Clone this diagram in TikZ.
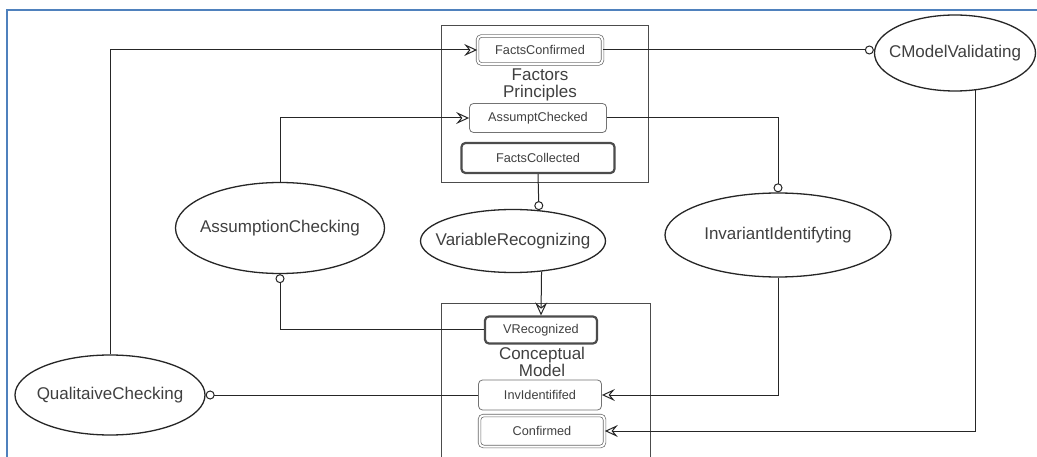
\documentclass[tikz,border=0pt]{standalone}
\usepackage{fontspec}
\setmainfont{Liberation Sans}
\usetikzlibrary{arrows.meta,shapes.geometric,positioning}
\definecolor{framebl}{RGB}{79,129,189}

\begin{document}
\begin{tikzpicture}[x=1pt, y=-1pt,
    proc/.style={draw=black!85, line width=1.3pt, ellipse, inner sep=0pt},
    proctxt/.style={text=black!75, font=\fontsize{17}{19}\selectfont},
    state/.style={draw=black!55, line width=0.8pt, rounded corners=4pt, inner sep=0pt, text=black!75, font=\fontsize{12.7}{14}\selectfont},
    thickstate/.style={state, draw=black!70, line width=2.2pt},
    dblstate/.style={state, draw=black!60, line width=0.7pt, double, double distance=2pt},
    group/.style={draw=black!70, line width=0.8pt, inner sep=0pt},
    grouplbl/.style={align=center, text=black!75, font=\fontsize{17}{17}\selectfont},
    arr/.style={-{Stealth[open, length=13pt, width=12pt, inset=5pt]}, line width=1pt, draw=black!85},
    circ/.style={-{Circle[open, length=9pt]}, line width=1pt, draw=black!85}
]
\clip (0,0) rectangle (1037,457);
\fill[white] (0,0) rectangle (1037,457);
\draw[framebl, line width=2pt] (1037,10) -- (7,10) -- (7,457);

% containers
\node[group, minimum width=207pt, minimum height=157pt] (fp) at (544.5,103.5) {};
\node[grouplbl] (fplbl) at (540,85) {Factors\\Principles};
\node[group, minimum width=209pt, minimum height=180pt] (cm) at (545.5,393) {};
\node[grouplbl] (cmlbl) at (542,362) {Conceptual\\Model};

% states
\node[dblstate, minimum width=125pt, minimum height=28pt] (fconf) at (540,50) {FactsConfirmed};
\node[state, minimum width=137pt, minimum height=29pt] (achk) at (538,118) {AssumptChecked};
\node[thickstate, minimum width=153pt, minimum height=30pt] (fcoll) at (538,158) {FactsCollected};
\node[thickstate, minimum width=112pt, minimum height=27pt] (vrec) at (541,330) {VRecognized};
\node[state, minimum width=123pt, minimum height=30pt] (invid) at (540,395) {InvIdentififed};
\node[dblstate, minimum width=125pt, minimum height=31pt] (conf) at (542,431) {Confirmed};

% processes (text as centre label, so the ellipse keeps its size)
\node[proc, minimum width=161pt, minimum height=76pt, label={[proctxt]center:CModelValidating}] (cmv) at (955,53) {};
\node[proc, minimum width=226pt, minimum height=84pt, label={[proctxt]center:InvariantIdentifyting}] (inv) at (778,235) {};
\node[proc, minimum width=185pt, minimum height=63pt, label={[proctxt]center:VariableRecognizing}] (var) at (513,241) {};
\node[proc, minimum width=209pt, minimum height=91pt, label={[proctxt]center:AssumptionChecking}] (asm) at (280,228) {};
\node[proc, minimum width=190pt, minimum height=80pt, label={[proctxt]center:QualitaiveChecking}] (qual) at (110,395) {};

% connectors
\draw[arr] (qual.north) |- (fconf.west);
\draw[arr] (asm.north) |- (achk.west);
\draw[circ] (fconf.east) -- (fconf.east -| cmv.west);
\draw[circ] (achk.east) -| (inv.north);
\draw[circ] (fcoll.south) -- (var.50.5);
\draw[arr] (var.-47) -- (vrec.north);
\draw[circ] (vrec.west) -| (asm.south);
\draw[arr] (inv.south) |- (invid.east);
\draw[circ] (invid.west) -- (qual.east);
\draw[arr] (cmv.-61.5) |- (conf.east);
\end{tikzpicture}
\end{document}
